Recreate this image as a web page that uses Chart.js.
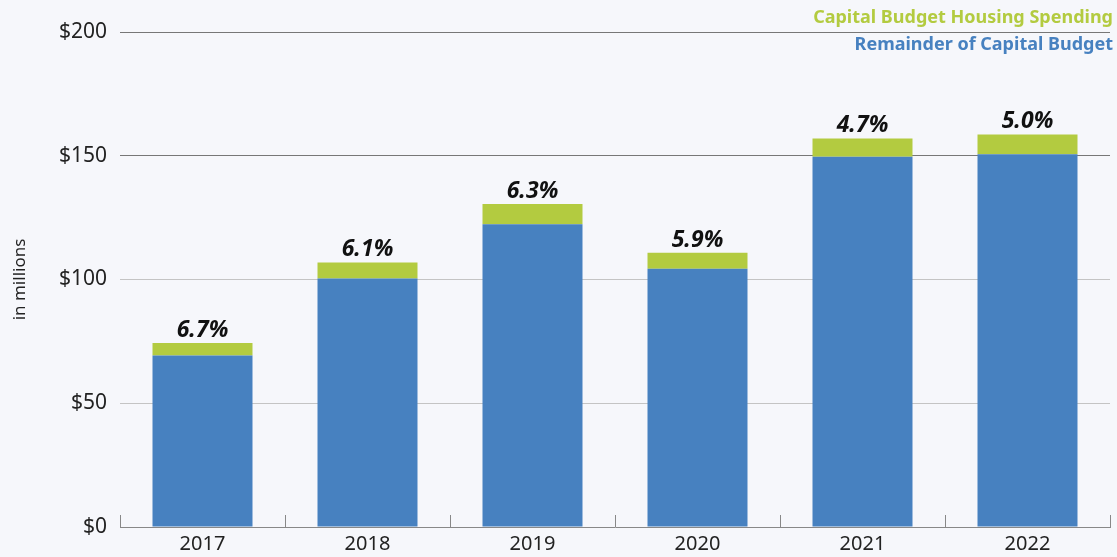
<!DOCTYPE html>
<html>
<head>
<meta charset="utf-8">
<script src="https://cdn.jsdelivr.net/npm/chart.js@4/dist/chart.umd.min.js"></script>
<style>
  html, body { margin: 0; padding: 0; background: #f6f7fb; }
  #wrap { width: 1117px; height: 557px; position: relative; }
</style>
</head>
<body>
<div id="wrap"><canvas id="budgetChart"></canvas></div>
<script>
// --- data ---
const years = ["2017", "2018", "2019", "2020", "2021", "2022"];
const remainder = [69.3, 100.4, 122.3, 104.3, 149.6, 150.6];
const housing = [5.0, 6.5, 8.2, 6.5, 7.4, 8.0];
const shareLabels = ["6.7%", "6.1%", "6.3%", "5.9%", "4.7%", "5.0%"];
const yTicks = [0, 50, 100, 150, 200];

const BLUE = "#4781c0";
const GREEN = "#b3cb40";
const FONT = "'Noto Sans', 'Open Sans', sans-serif";

// little upward ticks at the category boundaries
const boundaryTicks = {
    id: "boundaryTicks",
    afterDraw(chart) {
        const x = chart.scales.x;
        const ctx = chart.ctx;
        const step = (x.right - x.left) / years.length;
        ctx.save();
        ctx.strokeStyle = "#888";
        ctx.lineWidth = 1;
        for (let i = 0; i <= years.length; i++) {
            const px = Math.round(x.left + i * step) + 0.5;
            ctx.beginPath();
            ctx.moveTo(px, x.top);
            ctx.lineTo(px, x.top - 12);
            ctx.stroke();
        }
        ctx.restore();
    }
};

// percentage labels over each stack
const shareText = {
    id: "shareText",
    afterDatasetsDraw(chart) {
        const meta = chart.getDatasetMeta(1);
        const ctx = chart.ctx;
        ctx.save();
        ctx.font = "italic bold 23px " + FONT;
        ctx.fillStyle = "#111";
        ctx.textAlign = "center";
        ctx.textBaseline = "alphabetic";
        meta.data.forEach((bar, i) => {
            ctx.fillText(shareLabels[i], bar.x, bar.y - 6);
        });
        ctx.restore();
    }
};

// legend text, top right
const cornerLegend = {
    id: "cornerLegend",
    afterDraw(chart) {
        const ctx = chart.ctx;
        const ds = chart.data.datasets;
        ctx.save();
        ctx.font = "bold 18px " + FONT;
        ctx.textAlign = "right";
        ctx.textBaseline = "alphabetic";
        ctx.fillStyle = GREEN;
        ctx.fillText(ds[1].label, 1113, 23);
        ctx.fillStyle = BLUE;
        ctx.fillText(ds[0].label, 1113, 50);
        ctx.restore();
    }
};

new Chart(document.getElementById("budgetChart"), {
    type: "bar",
    data: {
        labels: years,
        datasets: [
            {
                label: "Remainder of Capital Budget",
                data: remainder,
                backgroundColor: BLUE
            },
            {
                label: "Capital Budget Housing Spending",
                data: housing,
                backgroundColor: GREEN
            }
        ]
    },
    options: {
        responsive: true,
        maintainAspectRatio: false,
        animation: false,
        categoryPercentage: 1,
        barPercentage: 0.606,
        layout: { padding: { top: 32, right: 7, left: 0, bottom: 0 } },
        plugins: {
            legend: { display: false },
            tooltip: { enabled: false }
        },
        scales: {
            x: {
                stacked: true,
                grid: { display: false, drawTicks: false },
                border: { display: true, color: "#888", width: 1 },
                ticks: {
                    color: "#222",
                    font: { family: FONT, size: 20 },
                    padding: 5
                },
                afterFit(scale) { scale.height = 30; }
            },
            y: {
                stacked: true,
                min: 0,
                max: 200,
                afterBuildTicks(scale) {
                    scale.ticks = yTicks.map(v => ({ value: v }));
                },
                grid: {
                    drawTicks: false,
                    color: ctx => (ctx.tick && ctx.tick.value >= 150) ? "#777" : (ctx.tick && ctx.tick.value === 0 ? "rgba(0,0,0,0)" : "#c4c4c4"),
                    lineWidth: 1
                },
                border: { display: false },
                ticks: {
                    color: "#222",
                    font: { family: FONT, size: 21 },
                    padding: 13,
                    callback: v => "$" + v
                },
                title: {
                    display: true,
                    text: "in millions",
                    color: "#222",
                    font: { family: FONT, size: 17 },
                    padding: { top: 10, bottom: 0 }
                },
                afterFit(scale) { scale.width = 120; }
            }
        }
    },
    plugins: [boundaryTicks, shareText, cornerLegend]
});
</script>
</body>
</html>
